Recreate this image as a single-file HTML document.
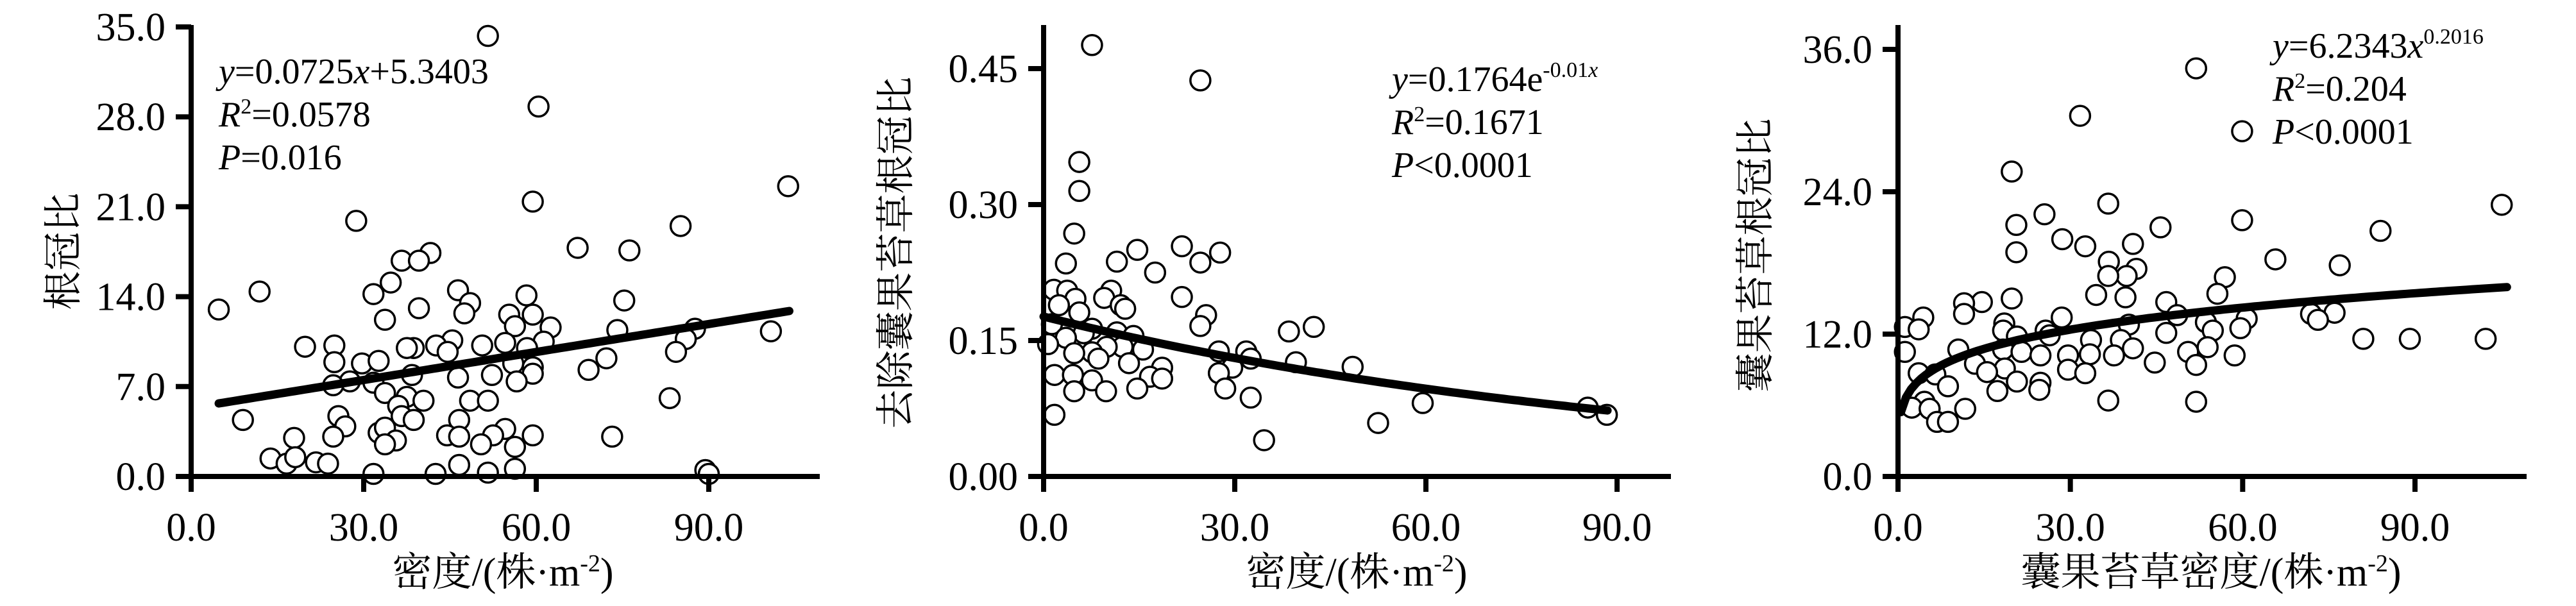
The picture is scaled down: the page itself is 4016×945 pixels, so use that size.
<!DOCTYPE html>
<html><head><meta charset="utf-8">
<style>
html,body{margin:0;padding:0;background:#fff;}
svg{display:block;}
text{font-family:"Liberation Serif","Noto Serif CJK SC","Noto Sans CJK SC",serif;fill:#000;}
</style></head>
<body>
<svg id="chart" width="4016" height="945" viewBox="0 0 4016 945" xmlns="http://www.w3.org/2000/svg">
<g id="p1"></g>
<g id="p2"></g>
<g id="p3"></g>
</svg>
<script>
const p1X = [51.6,60.4,103.8,59.4,28.7,85.1,67.2,76.2,41.6,36.6,39.6,34.7,11.9,31.7,46.4,58.3,75.3,4.8,48.5,39.6,47.5,55.3,59.4,33.7,56.3,62.5,74.1,87.6,100.8,86.0,61.3,54.6,45.4,50.6,42.6,38.7,37.5,24.9,19.8,58.4,44.6,84.3,72.2,24.9,29.7,32.6,56.0,59.4,69.1,38.4,52.3,46.4,59.4,27.6,24.7,31.7,56.6,33.7,37.5,40.4,48.5,51.6,83.2,36.0,25.6,26.8,9.0,36.6,38.7,46.6,24.7,17.9,32.6,33.7,35.6,33.7,44.5,46.6,54.6,52.5,50.4,56.3,59.4,73.2,13.8,16.6,18.1,21.7,23.8,46.6,31.7,42.5,51.6,56.3,89.4,90.0];
const p1Y = [34.3,28.8,22.6,21.4,19.9,19.5,17.8,17.6,17.4,16.8,16.8,15.1,14.4,14.2,14.5,14.1,13.7,13.0,13.5,13.1,12.7,12.6,12.6,12.2,11.7,11.6,11.4,11.5,11.3,10.7,10.5,10.4,10.6,10.2,10.2,10.0,10.0,10.2,10.1,10.0,9.7,9.7,9.2,8.9,8.8,9.0,8.8,8.5,8.3,7.9,7.9,7.7,8.0,7.4,7.1,7.3,7.4,6.5,6.2,5.9,5.9,5.9,6.1,5.5,4.7,3.9,4.4,4.7,4.4,4.4,3.1,3.0,3.4,3.8,2.8,2.5,3.2,3.1,3.7,3.2,2.5,2.3,3.2,3.1,1.4,1.0,1.5,1.1,1.0,0.9,0.2,0.2,0.3,0.6,0.5,0.2];
const p2X = [7.6,24.6,5.6,5.6,4.8,14.7,21.7,27.7,24.6,3.5,11.5,17.5,1.6,3.7,10.6,9.5,21.7,5.0,2.4,12.1,12.8,5.6,25.5,24.6,42.4,38.5,1.3,7.6,11.5,6.3,3.5,14.1,0.7,12.4,9.9,15.6,27.5,31.8,7.6,4.8,8.6,32.5,13.4,39.6,48.5,18.6,29.6,27.5,1.7,4.6,16.7,18.6,7.6,28.5,14.7,9.8,4.8,32.5,59.5,85.4,88.4,1.7,52.5,34.6];
const p2Y = [0.476,0.437,0.347,0.315,0.268,0.250,0.254,0.247,0.236,0.235,0.237,0.225,0.206,0.205,0.205,0.197,0.198,0.196,0.189,0.189,0.185,0.181,0.178,0.166,0.165,0.160,0.168,0.163,0.159,0.158,0.153,0.155,0.146,0.143,0.143,0.140,0.138,0.138,0.137,0.136,0.130,0.130,0.125,0.126,0.121,0.120,0.120,0.114,0.112,0.112,0.110,0.108,0.106,0.097,0.097,0.094,0.094,0.087,0.081,0.076,0.068,0.068,0.059,0.040];
const p3X = [51.9,31.7,59.9,19.8,105.1,36.6,25.5,59.9,20.6,45.7,84.0,28.6,32.6,40.9,20.6,65.7,36.7,76.9,41.5,39.8,36.6,56.9,34.5,39.6,55.6,14.6,11.5,19.8,46.7,48.6,11.5,71.9,76.0,73.1,4.4,28.5,60.7,1.2,3.6,53.6,18.5,40.2,59.6,18.3,25.7,54.8,20.7,46.7,26.4,81.0,89.1,102.3,33.6,38.8,1.2,10.5,18.3,21.5,40.9,53.9,50.5,24.8,29.6,33.4,37.6,58.6,44.7,51.9,13.4,18.6,15.5,29.6,32.6,3.6,6.5,20.7,24.8,24.6,8.7,17.3,36.6,51.9,4.6,11.7,2.4,5.5,6.8,8.7];
const p3Y = [34.4,30.4,29.1,25.7,22.9,23.0,22.1,21.6,21.2,21.0,20.7,20.0,19.4,19.6,18.9,18.3,18.1,17.8,17.5,16.9,16.9,16.8,15.3,15.1,15.4,14.7,14.6,15.0,14.7,13.6,13.7,13.7,13.8,13.2,13.4,13.4,13.3,12.6,12.4,13.0,12.9,12.8,12.5,12.3,12.3,12.3,11.8,12.1,11.9,11.6,11.6,11.6,11.5,11.5,10.5,10.7,10.7,10.5,10.8,10.9,10.5,10.2,10.2,10.3,10.2,10.2,9.6,9.4,9.5,9.1,8.8,9.0,8.7,8.7,8.6,8.0,7.9,7.3,7.6,7.2,6.4,6.3,6.3,5.7,5.8,5.7,4.6,4.6];
const p1XTicks = ["0.0","30.0","60.0","90.0"];
const p1YTicks = ["0.0","7.0","14.0","21.0","28.0","35.0"];
const p2XTicks = ["0.0","30.0","60.0","90.0"];
const p2YTicks = ["0.00","0.15","0.30","0.45"];
const p3XTicks = ["0.0","30.0","60.0","90.0"];
const p3YTicks = ["0.0","12.0","24.0","36.0"];

const NS = "http://www.w3.org/2000/svg";
function mk(parent, tag, attrs){
  const e = document.createElementNS(NS, tag);
  for (const k in attrs) e.setAttribute(k, attrs[k]);
  parent.appendChild(e);
  return e;
}

function drawPanel(cfg){
  const g = document.getElementById(cfg.id);
  const sx = v => cfg.x0 + (v - 0) * (cfg.x90 - cfg.x0) / 90;
  const sy = v => cfg.yBase - v * (cfg.yBase - cfg.yTopTick) / cfg.yMax;
  // points
  for (let i = 0; i < cfg.xs.length; i++){
    const c = mk(g, "circle", {cx: sx(cfg.xs[i]), cy: sy(cfg.ys[i]), r: 15.5, fill: "#fff", stroke: "#000", "stroke-width": 3.5});
    
    
  }
  // fit curve
  let d = "";
  const n = 120;
  for (let i = 0; i <= n; i++){
    const xv = cfg.fitFrom + (cfg.fitTo - cfg.fitFrom) * i / n;
    d += (i ? "L" : "M") + sx(xv).toFixed(1) + " " + sy(cfg.fit(xv)).toFixed(1);
  }
  const fl = mk(g, "path", {d: d, fill: "none", stroke: "#000", "stroke-width": 13, "stroke-linecap": "round"});
  
  
  // axes
  const ya = mk(g, "line", {x1: cfg.x0, y1: 39, x2: cfg.x0, y2: cfg.yBase + 24, stroke: "#000", "stroke-width": 8});
  
  
  const xa = mk(g, "line", {x1: cfg.x0 - 24, y1: cfg.yBase, x2: cfg.xEnd, y2: cfg.yBase, stroke: "#000", "stroke-width": 8});
  
  
  // x ticks
  cfg.xTicks.forEach((t, i) => {
    const xv = sx(i * 30);
    const tk = mk(g, "line", {x1: xv, y1: cfg.yBase, x2: xv, y2: cfg.yBase + 24, stroke: "#000", "stroke-width": 8});
    
    
    const tl = mk(g, "text", {x: xv, y: 843, "font-size": 62, "text-anchor": "middle"});
    tl.textContent = t;
    
    
  });
  // y ticks
  cfg.yTicks.forEach((t, i) => {
    const yv = sy(i * cfg.yStep);
    const tk = mk(g, "line", {x1: cfg.x0 - 24, y1: yv, x2: cfg.x0, y2: yv, stroke: "#000", "stroke-width": 8});
    
    
    const tl = mk(g, "text", {x: cfg.x0 - 40, y: yv + 21, "font-size": 62, "text-anchor": "end"});
    tl.textContent = t;
    
    
  });
  // titles
  const xt = mk(g, "text", {x: cfg.xTitleX, y: 913, "font-size": 62, "text-anchor": "middle"});
  xt.innerHTML = cfg.xTitle + '/(株·m<tspan dy="-22" font-size="38">-2</tspan><tspan dy="22">)</tspan>';
  
  
  const yt = mk(g, "text", {x: 0, y: 0, "font-size": 61, "text-anchor": "middle", transform: "translate(" + (cfg.yTitleX + 21) + "," + cfg.yTitleY + ") rotate(-90)"});
  yt.textContent = cfg.yTitle;
  
  
  // equation
  cfg.eq.forEach((line, i) => {
    const et = mk(g, "text", {x: cfg.eqX, y: cfg.eqY + i * 67, "font-size": 56});
    et.innerHTML = line;
    
    
  });
}

drawPanel({id: "p1", xs: p1X, ys: p1Y, x0: 298, x90: 1105, xEnd: 1278, yBase: 743, yTopTick: 42, yMax: 35, yStep: 7,
  xTicks: p1XTicks, yTicks: p1YTicks, fitFrom: 4.8, fitTo: 104, fit: x => 0.0725 * x + 5.3403,
  xTitle: "密度", xTitleX: 784, yTitle: "根冠比", yTitleX: 98, yTitleY: 392,
  eqX: 341, eqY: 130,
  eq: ['<tspan font-style="italic">y</tspan>=0.0725<tspan font-style="italic">x</tspan>+5.3403',
       '<tspan font-style="italic">R</tspan><tspan dy="-20" font-size="34">2</tspan><tspan dy="20">=0.0578</tspan>',
       '<tspan font-style="italic">P</tspan>=0.016']});

drawPanel({id: "p2", xs: p2X, ys: p2Y, x0: 1627, x90: 2521, xEnd: 2605, yBase: 743, yTopTick: 107, yMax: 0.45, yStep: 0.15,
  xTicks: p2XTicks, yTicks: p2YTicks, fitFrom: 0, fitTo: 88.5, fit: x => 0.1764 * Math.exp(-0.01 * x),
  xTitle: "密度", xTitleX: 2115, yTitle: "去除囊果苔草根冠比", yTitleX: 1396, yTitleY: 394,
  eqX: 2170, eqY: 142,
  eq: ['<tspan font-style="italic">y</tspan>=0.1764e<tspan dy="-22" font-size="34">-0.01</tspan><tspan font-size="34" font-style="italic">x</tspan>',
       '<tspan font-style="italic">R</tspan><tspan dy="-20" font-size="34">2</tspan><tspan dy="20">=0.1671</tspan>',
       '<tspan font-style="italic">P</tspan>&lt;0.0001']});

drawPanel({id: "p3", xs: p3X, ys: p3Y, x0: 2959, x90: 3765, xEnd: 3939, yBase: 743, yTopTick: 77, yMax: 36, yStep: 12,
  xTicks: p3XTicks, yTicks: p3YTicks, fitFrom: 0.5, fitTo: 106, fit: x => 6.2343 * Math.pow(x, 0.2016),
  xTitle: "囊果苔草密度", xTitleX: 3447, yTitle: "囊果苔草根冠比", yTitleX: 2736, yTitleY: 398,
  eqX: 3543, eqY: 90,
  eq: ['<tspan font-style="italic">y</tspan>=6.2343<tspan font-style="italic">x</tspan><tspan dy="-22" font-size="34">0.2016</tspan>',
       '<tspan font-style="italic">R</tspan><tspan dy="-20" font-size="34">2</tspan><tspan dy="20">=0.204</tspan>',
       '<tspan font-style="italic">P</tspan>&lt;0.0001']});
</script>
</body></html>
